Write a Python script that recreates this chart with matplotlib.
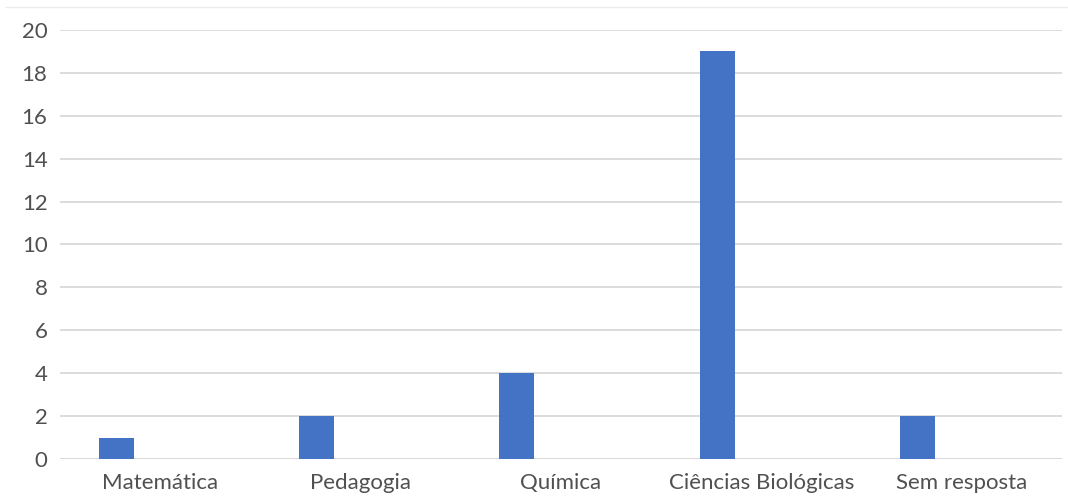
import numpy as np
import matplotlib.pyplot as plt
from matplotlib.lines import Line2D

categorias = ["Matemática", "Pedagogia", "Química", "Ciências Biológicas", "Sem resposta"]
valores = [1, 2, 4, 19, 2]

plt.rcParams['font.family'] = ['Lato', 'DejaVu Sans']

fig = plt.figure(figsize=(10.68, 5.0), dpi=100)
ax = fig.add_axes([60/1068, 41/500, 1002/1068, 429/500])

x = np.arange(len(categorias))
ax.bar(x - 0.22, valores, width=0.175, color='#4472c4', zorder=3)

ax.set_xlim(-0.5, len(categorias) - 0.5)
ax.set_ylim(0, 20)
ax.set_yticks(range(0, 21, 2))
ax.set_xticks(x)
ax.set_xticklabels(categorias)
ax.grid(axis='y', color='#d9d9d9', linewidth=1.3, zorder=0)
for s in ax.spines.values():
    s.set_visible(False)
ax.axhline(0, color='#d9d9d9', linewidth=1.3, zorder=1)
ax.tick_params(length=0, labelsize=16, colors='#505050', pad=10)
ax.tick_params(axis='y', pad=9)

# faint border at top of chart area
fig.add_artist(Line2D([6/1068, 1], [493/500, 493/500], color='#ececec', linewidth=1))

fig.savefig('out.png', dpi=100)
